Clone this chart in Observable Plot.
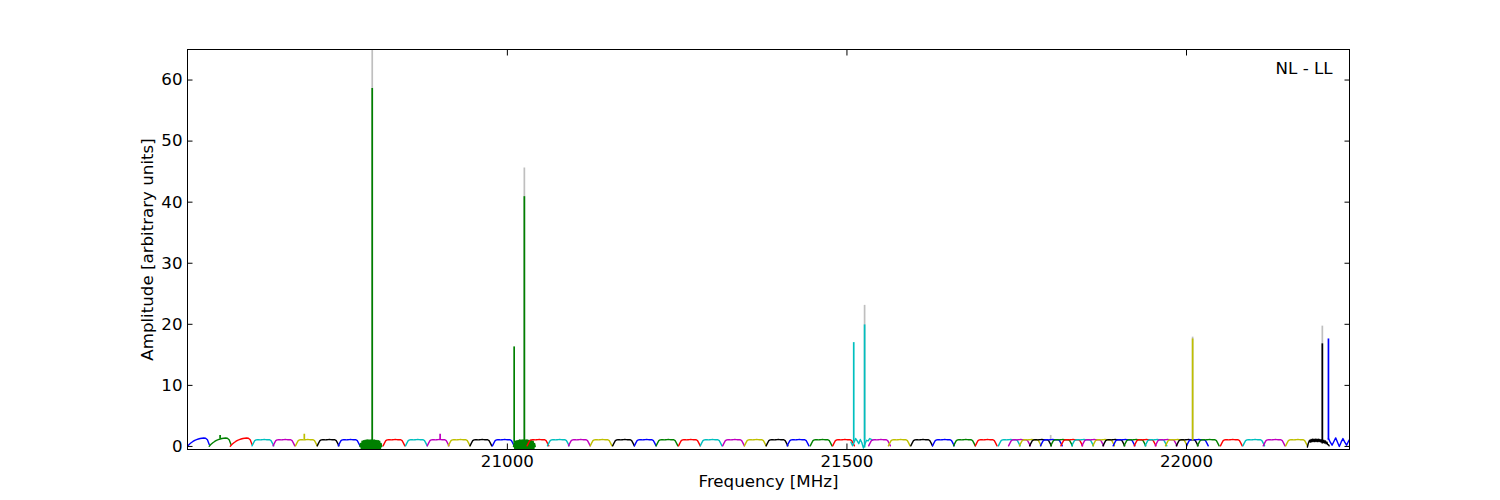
<!DOCTYPE html>
<html>
<head>
<meta charset="utf-8">
<script src="https://cdn.jsdelivr.net/npm/d3@7"></script>
<script src="https://cdn.jsdelivr.net/npm/@observablehq/plot@0.6"></script>
<style>
  html, body { margin: 0; padding: 0; background: #fff; }
  #chart svg { display: block; }
</style>
</head>
<body>
<div id="chart"></div>
<script>
// ---- data ----
// start frequency (MHz) of every 32 MHz sub-band, in plotting order
const bandStart = [
  20529, 20561, 20592, 20624, 20655, 20688, 20720, 20751, 20783, 20817,
  20850, 20882, 20913, 20945, 20978, 21009, 21029, 21059, 21090, 21122,
  21155, 21187, 21219, 21252, 21284, 21317, 21349, 21381, 21412, 21446,
  21479, 21506, 21532, 21561, 21594, 21626, 21657, 21689, 21723, 21738,
  21754, 21769, 21785, 21800, 21815, 21831, 21846, 21862, 21877, 21892,
  21908, 21923, 21939, 21954, 21969, 21985, 22000, 22016, 22050, 22083,
  22113, 22146, 22178, 22209
];
const bandWidth = 32;

// bandpass profiles across one sub-band (amplitude, evenly spaced in frequency)
const profileFlat   = [0.1, 0.55, 0.95, 1.08, 1.12, 1.1, 1.08, 1.1, 1.12, 1.15, 1.12, 1.1, 1.12, 1.1, 0.95, 0.55, 0.1];
const profileRamp   = [0.05, 0.35, 0.6, 0.82, 1.0, 1.12, 1.22, 1.3, 1.35, 1.38, 1.35, 1.1, 0.3];
const profileNoisy  = [0.0, 0.5, -0.45, 0.85, -0.45, 0.95, -0.4, 1.0, -0.45, 1.05, -0.4, 1.05, -0.45, 1.05, -0.4, 1.05,
                       -0.45, 1.05, -0.4, 1.05, -0.45, 1.05, -0.4, 1.0, -0.45, 1.0, -0.4, 0.95, -0.45, 0.85, -0.4, 0.5, 0.0];
const profileWavy   = [0.7, 0.1, 0.7, 1.3, 0.9, 0.45, 1.15, 0.6, -0.25, 0.4, 1.0, 0.9, 1.3, 1.15, 1.0];
const profileThick  = [-0.1, 0.4, 0.75, 1.0, 0.7, 1.15, 0.75, 1.2, 0.8, 1.2, 0.8, 1.2, 0.8, 1.2, 0.8, 1.2,
                       0.8, 1.15, 0.75, 1.1, 0.7, 1.05, 0.65, 1.0, 0.55, 0.9, 0.45, 0.7, 0.3, 0.3, 0.1];
const profileWiggle = [1.3, 0.7, 0.2, 0.8, 1.4, 0.7, 0.0, 0.7, 1.3, 0.7, 0.2, 0.8, 1.3];
// sub-bands whose profile differs from the flat one
const bandShapeSpecial = {0: "ramp", 1: "ramp", 2: "ramp", 8: "noisy", 15: "noisy", 31: "wavy", 62: "thick", 63: "wiggle"};

// narrow line spikes (coloured, on top)
const spikeFreq   = [20577, 20701, 20801, 20901, 21010, 21025, 21510, 21526, 22009, 22200, 22209];
const spikeHeight = [1.8,   2.0,   58.6,  2.0,   16.3,  40.9,  17.0,  19.9,  17.6,  16.8,  17.6];
const spikeBase   = [1.2,   1.1,   0.5,   1.1,   0.5,   0.0,   0.7,   -0.25, 0.9,   0.4,   1.0];
const spikeBand   = [1,     5,     8,     11,    15,    15,    31,    31,    54,    62,    63];

// grey reference spectrum peaks (behind)
const greyFreq   = [20801, 21025, 21526, 22009, 22200, 21800];
const greyHeight = [66,    45.6,  23.1,  17.9,  19.7,  1.8];
const greyBase   = [1.0,   1.0,   1.0,   1.0,   1.0,   1.0];

const xTicks = [21000, 21500, 22000];
const yTicks = [0, 10, 20, 30, 40, 50, 60];
const label = "NL - LL";

// ---- build tables ----
const profiles = {flat: profileFlat, ramp: profileRamp, noisy: profileNoisy, wavy: profileWavy, thick: profileThick, wiggle: profileWiggle};
const rows = [];
bandStart.forEach((s, i) => {
  const prof = profiles[bandShapeSpecial[i] || "flat"];
  prof.forEach((v, j) => rows.push({band: i, cyc: i % 7, freq: s + bandWidth * j / (prof.length - 1), amp: v}));
});
const spikes = spikeFreq.map((f, i) => ({freq: f, amp: spikeHeight[i], base: spikeBase[i], cyc: spikeBand[i] % 7}));
const greys = greyFreq.map((f, i) => ({freq: f, amp: greyHeight[i], base: greyBase[i]}));

const palette = ["#0000ff", "#008000", "#ff0000", "#00bfbf", "#bf00bf", "#bfbf00", "#000000"];

const chart = Plot.plot({
  width: 1500,
  height: 500,
  marginLeft: 187,
  marginRight: 151,
  marginTop: 49,
  marginBottom: 51,
  style: {fontFamily: "DejaVu Sans", fontSize: "16.67px", background: "white", color: "black"},
  x: {domain: [20529, 22240]},
  y: {domain: [-0.5, 65]},
  color: {type: "ordinal", domain: d3.range(7), range: palette},
  marks: [
    Plot.ruleX(greys, {x: "freq", y1: "base", y2: "amp", stroke: "#bfbfbf", strokeWidth: 1.7, clip: true}),
    Plot.line(rows, {x: "freq", y: "amp", z: "band", stroke: "cyc", strokeWidth: 1.4, clip: true}),
    Plot.ruleX(spikes, {x: "freq", y1: "base", y2: "amp", stroke: "cyc", strokeWidth: 1.7, clip: true}),
    Plot.frame({stroke: "black", strokeWidth: 1}),
    Plot.axisX({ticks: xTicks, tickSize: -5.5, tickPadding: 11, tickFormat: d => String(d), label: null}),
    Plot.axisX({anchor: "top", ticks: xTicks, tickSize: -5.5, tickFormat: () => "", label: null}),
    Plot.axisY({ticks: yTicks, tickSize: -5.5, tickPadding: 10.5, tickFormat: d => String(d), label: null}),
    Plot.axisY({anchor: "right", ticks: yTicks, tickSize: -5.5, tickFormat: () => "", label: null}),
    Plot.text(["Frequency [MHz]"], {text: d => d, frameAnchor: "bottom", dy: 31.7, textAnchor: "middle", lineAnchor: "middle", fill: "black"}),
    Plot.text(["Amplitude [arbitrary units]"], {text: d => d, frameAnchor: "left", dx: -39.8, rotate: -90, textAnchor: "middle", lineAnchor: "middle", fill: "black"}),
    Plot.text([label], {text: d => d, frameAnchor: "top-right", dx: -17, dy: 19, textAnchor: "end", lineAnchor: "middle", fill: "black"})
  ]
});
document.getElementById("chart").appendChild(chart);
</script>
</body>
</html>
